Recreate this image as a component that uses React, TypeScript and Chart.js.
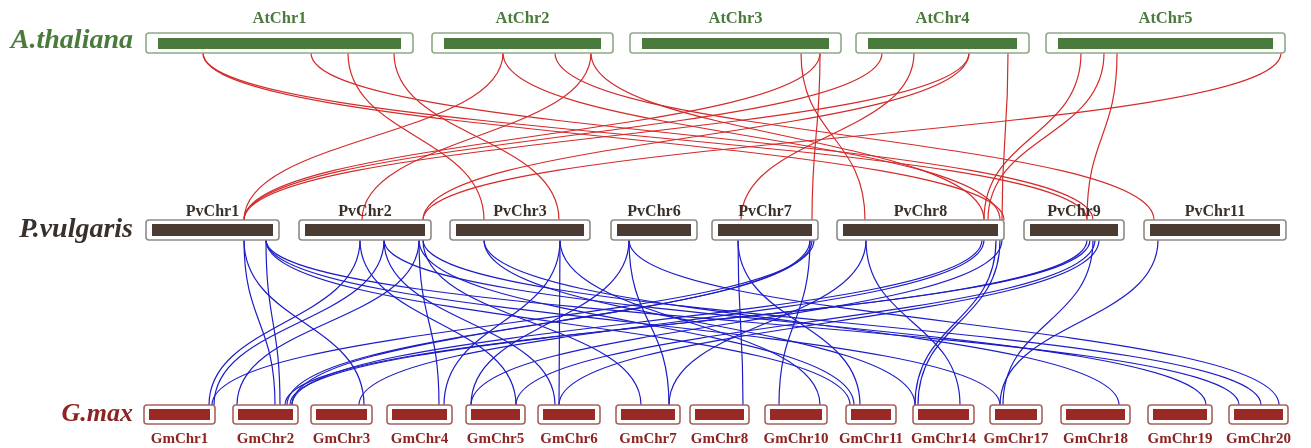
import React, { useEffect, useRef } from "react";
import { Chart, registerables } from "chart.js";
Chart.register(...registerables);

// ---- Chromosome data (positions along the shared track axis) ----
const atNames = ["AtChr1", "AtChr2", "AtChr3", "AtChr4", "AtChr5"];
const atStart = [158, 444, 642, 868, 1058];
const atEnd = [401, 601, 829, 1017, 1273];

const pvNames = ["PvChr1", "PvChr2", "PvChr3", "PvChr6", "PvChr7", "PvChr8", "PvChr9", "PvChr11"];
const pvStart = [152, 305, 456, 617, 718, 843, 1030, 1150];
const pvEnd = [273, 425, 584, 691, 812, 998, 1118, 1280];

const gmNames = ["GmChr1", "GmChr2", "GmChr3", "GmChr4", "GmChr5", "GmChr6", "GmChr7", "GmChr8", "GmChr10", "GmChr11", "GmChr14", "GmChr17", "GmChr18", "GmChr19", "GmChr20"];
const gmStart = [149, 238, 316, 392, 471, 543, 621, 695, 770, 851, 918, 995, 1066, 1153, 1234];
const gmEnd = [210, 293, 367, 447, 520, 595, 675, 744, 822, 891, 969, 1037, 1125, 1207, 1283];

// ---- Syntenic links: A.thaliana -> P.vulgaris ----
const atLinkFrom = [203, 203, 311, 348, 394, 503, 503, 555, 591, 591, 801, 820, 820, 882, 914, 969, 969, 1008, 1081, 1104, 1117, 1281];
const atLinkTo = [1087, 1004, 1093, 484, 559, 244, 1000, 1154, 362, 984, 865, 244, 812, 244, 741, 244, 423, 1002, 984, 988, 1087, 423];

// ---- Syntenic links: P.vulgaris -> G.max ----
const pvLinkFrom = [
  244, 244, 266, 266, 266, 266,
  360, 360, 384, 384, 384, 419, 419, 419, 423, 423,
  484, 484, 560, 560, 560,
  629, 629, 629,
  738, 738, 810, 812, 814, 810,
  866, 866, 982, 984, 996, 1000, 1002,
  1087, 1090, 1093, 1095, 1099,
  1158,
];
const gmLinkTo = [
  275, 364, 280, 850, 1000, 1239,
  209, 516, 214, 555, 1206, 237, 439, 854, 1261, 641,
  915, 1119, 444, 559, 820,
  471, 669, 1279,
  743, 860, 292, 287, 212, 779,
  669, 960, 292, 359, 915, 918, 471,
  290, 285, 1003, 516, 559,
  1000,
];

const W = 1311;
const H = 448;

const SERIF = '"Liberation Serif", "DejaVu Serif", serif';

const tracks = [
  {
    names: atNames, start: atStart, end: atEnd,
    inner: [38, 49], outer: [33, 53], padX: 12,
    fill: "#4a7a3c", border: "#8fa888", labelColor: "#4a7a3c",
    labelY: 19, labelAbove: true, labelFont: "bold 16.5px " + SERIF,
    species: "A.thaliana", speciesY: 41, speciesFont: "italic bold 28px " + SERIF,
  },
  {
    names: pvNames, start: pvStart, end: pvEnd,
    inner: [224, 236], outer: [220, 240], padX: 6,
    fill: "#4a3c32", border: "#8e8a86", labelColor: "#3a302a",
    labelY: 212, labelAbove: true, labelFont: "bold 16px " + SERIF,
    species: "P.vulgaris", speciesY: 230, speciesFont: "italic bold 28px " + SERIF,
  },
  {
    names: gmNames, start: gmStart, end: gmEnd,
    inner: [409, 420], outer: [405, 424], padX: 5,
    fill: "#9a2824", border: "#a8625c", labelColor: "#8c2424",
    labelY: 439, labelAbove: false, labelFont: "bold 15px " + SERIF,
    species: "G.max", speciesY: 414, speciesFont: "italic bold 26px " + SERIF,
  },
];

function roundRect(ctx: CanvasRenderingContext2D, x: number, y: number, w: number, h: number, r: number) {
  ctx.beginPath();
  ctx.moveTo(x + r, y);
  ctx.lineTo(x + w - r, y);
  ctx.quadraticCurveTo(x + w, y, x + w, y + r);
  ctx.lineTo(x + w, y + h - r);
  ctx.quadraticCurveTo(x + w, y + h, x + w - r, y + h);
  ctx.lineTo(x + r, y + h);
  ctx.quadraticCurveTo(x, y + h, x, y + h - r);
  ctx.lineTo(x, y + r);
  ctx.quadraticCurveTo(x, y, x + r, y);
  ctx.closePath();
}

const syntenyPlugin = {
  id: "synteny",
  afterDatasetsDraw(chart: any) {
    const ctx: CanvasRenderingContext2D = chart.ctx;
    const xs = chart.scales.x;
    const ys = chart.scales.y;
    const px = (v: number) => xs.getPixelForValue(v);
    const py = (v: number) => ys.getPixelForValue(v);

    const drawLinks = (from: number[], to: number[], y1v: number, y2v: number, color: string) => {
      ctx.save();
      ctx.strokeStyle = color;
      ctx.lineWidth = 1.2;
      const y1 = py(y1v);
      const y2 = py(y2v);
      const mid = (y2 - y1) * 0.5;
      for (let i = 0; i < from.length; i++) {
        const x1 = px(from[i]);
        const x2 = px(to[i]);
        ctx.beginPath();
        ctx.moveTo(x1, y1);
        ctx.bezierCurveTo(x1, y1 + mid, x2, y2 - mid, x2, y2);
        ctx.stroke();
      }
      ctx.restore();
    };

    drawLinks(atLinkFrom, atLinkTo, tracks[0].outer[1], tracks[1].outer[0], "#d42a2a");
    drawLinks(pvLinkFrom, gmLinkTo, tracks[1].outer[1], tracks[2].outer[0], "#1c1cc8");

    for (const t of tracks) {
      for (let i = 0; i < t.names.length; i++) {
        const x0 = px(t.start[i]);
        const x1 = px(t.end[i]);
        // outer box
        const ox = x0 - t.padX;
        const ow = x1 - x0 + t.padX * 2;
        const oy = py(t.outer[0]);
        const oh = py(t.outer[1]) - oy;
        ctx.save();
        roundRect(ctx, ox, oy, ow, oh, 3);
        ctx.fillStyle = "#ffffff";
        ctx.fill();
        ctx.lineWidth = 1.6;
        ctx.strokeStyle = t.border;
        ctx.stroke();
        // inner bar
        const iy = py(t.inner[0]);
        const ih = py(t.inner[1]) - iy;
        ctx.fillStyle = t.fill;
        ctx.fillRect(x0, iy, x1 - x0, ih);
        // label
        ctx.font = t.labelFont;
        ctx.fillStyle = t.labelColor;
        ctx.textAlign = "center";
        ctx.textBaseline = "middle";
        ctx.fillText(t.names[i], (x0 + x1) / 2, py(t.labelY));
        ctx.restore();
      }
      ctx.save();
      ctx.font = t.speciesFont;
      ctx.fillStyle = t.labelColor;
      ctx.textAlign = "right";
      ctx.textBaseline = "middle";
      ctx.fillText(t.species, px(133), py(t.speciesY));
      ctx.restore();
    }
  },
};

export default function App() {
  const ref = useRef<HTMLCanvasElement | null>(null);
  useEffect(() => {
    document.body.style.margin = "0";
    const canvas = ref.current;
    if (!canvas) return;
    const chart = new Chart(canvas, {
      type: "scatter",
      data: { datasets: [{ data: [] }] },
      options: {
        animation: false,
        responsive: false,
        devicePixelRatio: 1,
        layout: { padding: 0 },
        plugins: { legend: { display: false }, tooltip: { enabled: false } },
        scales: {
          x: { type: "linear", min: 0, max: W, display: false },
          y: { type: "linear", min: 0, max: H, reverse: true, display: false },
        },
      },
      plugins: [syntenyPlugin],
    });
    return () => chart.destroy();
  }, []);
  return (
    <div style={{ width: W, height: H, background: "#fff" }}>
      <canvas ref={ref} width={W} height={H} style={{ display: "block" }} />
    </div>
  );
}
